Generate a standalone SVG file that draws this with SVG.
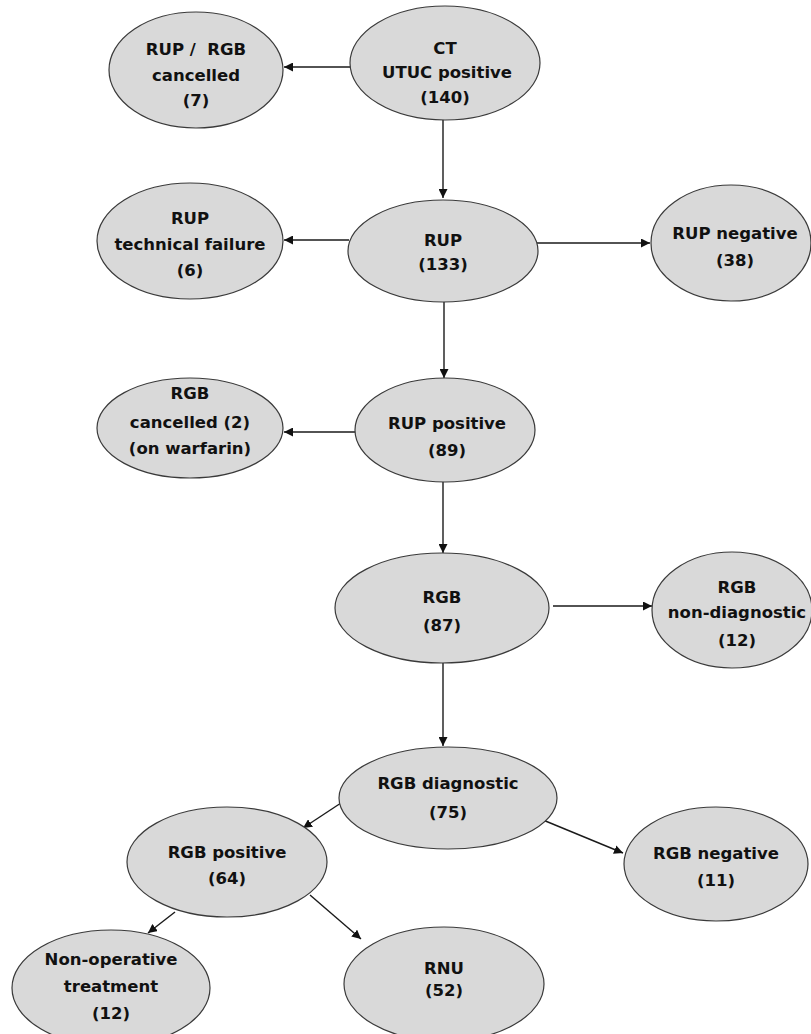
<svg xmlns="http://www.w3.org/2000/svg" width="811" height="1034" viewBox="0 0 811 1034">
  <defs>
    <marker id="arrow" viewBox="0 0 10 10" refX="10" refY="5" markerWidth="9" markerHeight="9" markerUnits="userSpaceOnUse" orient="auto">
      <path d="M0,0 L10,5 L0,10 z" fill="#111"/>
    </marker>
    <style>
      .node ellipse { fill: #d9d9d9; stroke: #3a3a3a; stroke-width: 1.2; }
      .node text { font-family: "DejaVu Sans", Verdana, sans-serif; font-weight: bold; font-size: 16.5px; fill: #111; text-anchor: middle; }
      .edges line { stroke: #1a1a1a; stroke-width: 1.4; marker-end: url(#arrow); }
    </style>
  </defs>
  <rect width="811" height="1034" fill="#ffffff"/>

  <!-- connectors -->
  <g class="edges" id="connectors">
    <line x1="352" y1="67" x2="284" y2="67"/>
    <line x1="443" y1="120" x2="443" y2="198"/>
    <line x1="349" y1="240" x2="284" y2="240"/>
    <line x1="537" y1="243" x2="650" y2="243"/>
    <line x1="444" y1="302" x2="444" y2="378"/>
    <line x1="355" y1="432" x2="284" y2="432"/>
    <line x1="443" y1="482" x2="443" y2="553"/>
    <line x1="553" y1="606" x2="652" y2="606"/>
    <line x1="443" y1="663" x2="443" y2="746"/>
    <line x1="344" y1="801" x2="303" y2="828"/>
    <line x1="543" y1="820" x2="623" y2="853"/>
    <line x1="175" y1="912" x2="148" y2="933"/>
    <line x1="310" y1="895" x2="361" y2="939"/>
  </g>

  <!-- nodes -->
  <g class="node" id="n-ct">
    <ellipse cx="445" cy="63" rx="95" ry="57"/>
    <text x="445" y="54">CT</text>
    <text x="447" y="78">UTUC positive</text>
    <text x="445" y="103">(140)</text>
  </g>
  <g class="node" id="n-cancelled">
    <ellipse cx="196" cy="70" rx="87" ry="58"/>
    <text x="196" y="55">RUP /&#160; RGB</text>
    <text x="196" y="81">cancelled</text>
    <text x="196" y="106">(7)</text>
  </g>
  <g class="node" id="n-rup">
    <ellipse cx="443" cy="251" rx="95" ry="51"/>
    <text x="443" y="246">RUP</text>
    <text x="443" y="270">(133)</text>
  </g>
  <g class="node" id="n-rup-failure">
    <ellipse cx="190" cy="241" rx="93" ry="58"/>
    <text x="190" y="224">RUP</text>
    <text x="190" y="250">technical failure</text>
    <text x="190" y="276">(6)</text>
  </g>
  <g class="node" id="n-rup-negative">
    <ellipse cx="731" cy="243" rx="80" ry="58"/>
    <text x="735" y="239">RUP negative</text>
    <text x="735" y="266">(38)</text>
  </g>
  <g class="node" id="n-rup-positive">
    <ellipse cx="445" cy="430" rx="90" ry="52"/>
    <text x="447" y="429">RUP positive</text>
    <text x="447" y="456">(89)</text>
  </g>
  <g class="node" id="n-rgb-cancelled">
    <ellipse cx="190" cy="428" rx="93" ry="50"/>
    <text x="190" y="399">RGB</text>
    <text x="190" y="428">cancelled (2)</text>
    <text x="190" y="454">(on warfarin)</text>
  </g>
  <g class="node" id="n-rgb">
    <ellipse cx="442" cy="608" rx="107" ry="55"/>
    <text x="442" y="603">RGB</text>
    <text x="442" y="631">(87)</text>
  </g>
  <g class="node" id="n-rgb-nondiag">
    <ellipse cx="732" cy="610" rx="80" ry="58"/>
    <text x="737" y="593">RGB</text>
    <text x="737" y="618">non-diagnostic</text>
    <text x="737" y="646">(12)</text>
  </g>
  <g class="node" id="n-rgb-diag">
    <ellipse cx="448" cy="798" rx="109" ry="51"/>
    <text x="448" y="789">RGB diagnostic</text>
    <text x="448" y="818">(75)</text>
  </g>
  <g class="node" id="n-rgb-positive">
    <ellipse cx="227" cy="862" rx="100" ry="55"/>
    <text x="227" y="858">RGB positive</text>
    <text x="227" y="884">(64)</text>
  </g>
  <g class="node" id="n-rgb-negative">
    <ellipse cx="716" cy="864" rx="92" ry="57"/>
    <text x="716" y="859">RGB negative</text>
    <text x="716" y="886">(11)</text>
  </g>
  <g class="node" id="n-nonop">
    <ellipse cx="111" cy="988" rx="99" ry="58"/>
    <text x="111" y="965">Non-operative</text>
    <text x="111" y="992">treatment</text>
    <text x="111" y="1019">(12)</text>
  </g>
  <g class="node" id="n-rnu">
    <ellipse cx="444" cy="984" rx="100" ry="57"/>
    <text x="444" y="974">RNU</text>
    <text x="444" y="996">(52)</text>
  </g>
</svg>
